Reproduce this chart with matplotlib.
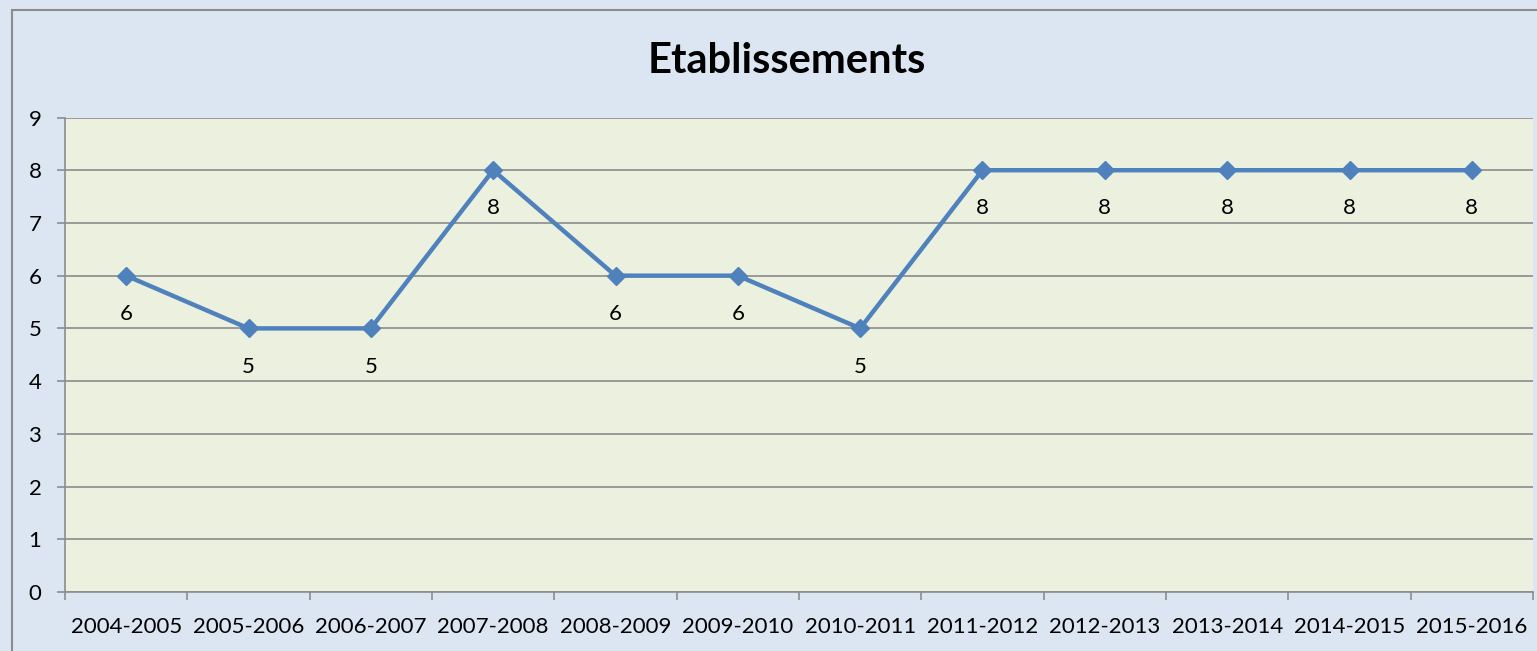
import matplotlib
matplotlib.use("Agg")
import matplotlib.pyplot as plt
from matplotlib.patches import Rectangle

categories = ["2004-2005", "2005-2006", "2006-2007", "2007-2008", "2008-2009", "2009-2010",
              "2010-2011", "2011-2012", "2012-2013", "2013-2014", "2014-2015", "2015-2016"]
values = [6, 5, 5, 8, 6, 6, 5, 8, 8, 8, 8, 8]
title = "Etablissements"

plt.rcParams['font.family'] = ['Lato', 'DejaVu Sans']

fig = plt.figure(figsize=(15.37, 6.51), dpi=100)
fig.patch.set_facecolor("#DCE6F2")
fig.patches.append(Rectangle((12/1537, -0.1), 1.2, 1 - 10/651 + 0.1, transform=fig.transFigure,
                             fill=False, edgecolor="#8C8C8C", linewidth=1.5))

ax = fig.add_axes([65/1537, 1 - 592/651, (1533 - 65)/1537, (592 - 117.5)/651])
ax.set_facecolor("#EBF1DE")

x = list(range(len(categories)))
ax.plot(x, values, color="#4F81BD", linewidth=3.2, marker="D", markersize=9,
        markerfacecolor="#4F81BD", markeredgecolor="#4F81BD", zorder=3)
for xi, v in zip(x, values):
    ax.annotate(str(v), (xi, v), xytext=(0, -27.5), textcoords="offset points",
                ha="center", va="center", fontsize=16, color="black")

ax.set_xlim(-0.5, len(categories) - 0.5)
ax.set_ylim(0, 9)
ax.set_yticks(range(0, 10))
ax.grid(axis="y", color="#8C8C8C", linewidth=1.2)
ax.set_axisbelow(True)
ax.set_xticks(x)
ax.set_xticklabels(categories, fontsize=16)
ax.set_xticks([i - 0.5 for i in range(len(categories) + 1)], minor=True)
ax.tick_params(axis="x", which="major", length=0, pad=18)
ax.tick_params(axis="x", which="minor", length=6, color="#8C8C8C", width=1.2)
ax.tick_params(axis="y", length=6, color="#8C8C8C", width=1.2, labelsize=16, pad=11)
for s in ["top", "right"]:
    ax.spines[s].set_visible(False)
for s in ["left", "bottom"]:
    ax.spines[s].set_color("#8C8C8C")
    ax.spines[s].set_linewidth(1.2)

fig.text((645 + 928) / 2 / 1537, 1 - 61/651, title, ha="center", va="center",
         fontsize=30, fontweight="bold")

fig.savefig("out.png", dpi=100, facecolor=fig.get_facecolor())
